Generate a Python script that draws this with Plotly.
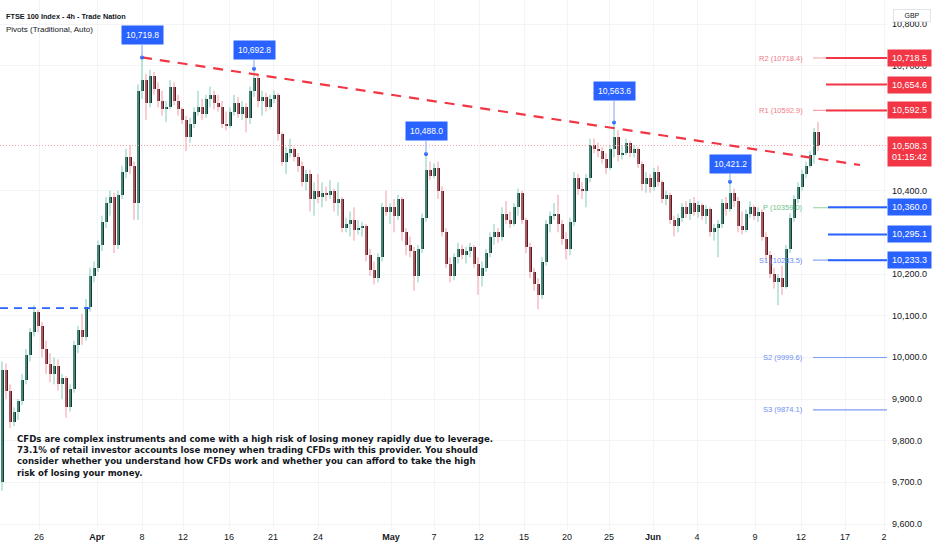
import plotly.graph_objects as go

# FTSE 100 4h candles (price units)
opens = [9700, 9970, 9920, 9845, 9870, 9895, 9945, 10005, 10060, 10110,
         10075, 10020, 9985, 9960, 9980, 9935, 9950, 9880, 9925, 10030,
         10065, 10050, 10120, 10195, 10215, 10270, 10325, 10370, 10385, 10270,
         10390, 10445, 10480, 10460, 10370, 10640, 10665, 10610, 10675, 10645,
         10615, 10595, 10600, 10650, 10615, 10595, 10570, 10530, 10560, 10590,
         10600, 10585, 10620, 10630, 10610, 10600, 10560, 10555, 10590, 10610,
         10585, 10600, 10575, 10640, 10670, 10615, 10625, 10600, 10620, 10630,
         10535, 10470, 10490, 10500, 10480, 10460, 10420, 10440, 10380, 10400,
         10385, 10395, 10390, 10400, 10370, 10380, 10310, 10320, 10330, 10305,
         10310, 10315, 10245, 10210, 10190, 10240, 10360, 10350, 10360, 10340,
         10380, 10300, 10270, 10255, 10195, 10260, 10335, 10450, 10435, 10455,
         10400, 10300, 10225, 10195, 10240, 10260, 10245, 10255, 10265, 10225,
         10195, 10215, 10250, 10290, 10300, 10290, 10345, 10330, 10320, 10360,
         10395, 10330, 10265, 10205, 10175, 10150, 10230, 10320, 10340, 10345,
         10320, 10285, 10260, 10325, 10430, 10405, 10400, 10430, 10510, 10500,
         10495, 10475, 10455, 10500, 10530, 10485, 10490, 10515, 10490, 10500,
         10465, 10415, 10430, 10410, 10445, 10420, 10380, 10390, 10330, 10315,
         10335, 10360, 10345, 10370, 10350, 10365, 10340, 10355, 10300, 10310,
         10320, 10370, 10355, 10395, 10375, 10315, 10305, 10345, 10360, 10340,
         10350, 10290, 10245, 10200, 10180, 10190, 10170, 10260, 10335, 10380,
         10410, 10440, 10460, 10485, 10540]
highs = [9990, 9985, 9935, 9880, 9900, 9960, 10020, 10070, 10125, 10115,
         10085, 10040, 10010, 10000, 9995, 9960, 9955, 9935, 10040, 10075,
         10105, 10140, 10215, 10230, 10280, 10340, 10385, 10400, 10395, 10400,
         10460, 10500, 10510, 10470, 10655, 10719.8, 10680, 10690, 10685, 10660,
         10640, 10615, 10665, 10660, 10630, 10600, 10580, 10575, 10600, 10640,
         10620, 10630, 10650, 10640, 10630, 10615, 10590, 10600, 10630, 10625,
         10615, 10610, 10650, 10692.8, 10680, 10640, 10635, 10630, 10640, 10635,
         10540, 10505, 10525, 10505, 10490, 10470, 10450, 10450, 10420, 10440,
         10420, 10410, 10425, 10405, 10420, 10385, 10335, 10350, 10360, 10330,
         10325, 10320, 10260, 10230, 10250, 10370, 10400, 10370, 10380, 10390,
         10385, 10310, 10290, 10265, 10270, 10345, 10488.0, 10470, 10465, 10470,
         10410, 10310, 10240, 10250, 10275, 10270, 10265, 10275, 10270, 10240,
         10230, 10260, 10300, 10320, 10310, 10360, 10375, 10350, 10370, 10405,
         10400, 10335, 10275, 10215, 10190, 10240, 10330, 10350, 10370, 10390,
         10330, 10300, 10335, 10445, 10440, 10420, 10440, 10525, 10525, 10515,
         10505, 10490, 10510, 10563.6, 10545, 10510, 10525, 10520, 10510, 10505,
         10470, 10445, 10440, 10455, 10460, 10425, 10400, 10395, 10340, 10345,
         10370, 10375, 10380, 10385, 10375, 10370, 10365, 10360, 10320, 10330,
         10380, 10385, 10421.2, 10405, 10385, 10350, 10355, 10375, 10365, 10360,
         10355, 10300, 10255, 10215, 10200, 10220, 10270, 10345, 10390, 10420,
         10450, 10470, 10495, 10550, 10565]
lows = [9680, 9900, 9830, 9835, 9850, 9885, 9935, 9990, 10050, 10060,
        10000, 9960, 9940, 9935, 9920, 9900, 9855, 9870, 9915, 10010,
        10030, 10040, 10110, 10180, 10205, 10255, 10310, 10340, 10250, 10260,
        10380, 10430, 10440, 10330, 10330, 10620, 10570, 10600, 10630, 10600,
        10580, 10565, 10595, 10605, 10580, 10560, 10495, 10515, 10550, 10580,
        10570, 10575, 10600, 10595, 10590, 10550, 10545, 10550, 10580, 10575,
        10570, 10540, 10560, 10625, 10600, 10580, 10590, 10595, 10610, 10520,
        10460, 10440, 10480, 10470, 10445, 10410, 10400, 10350, 10340, 10370,
        10360, 10375, 10380, 10350, 10340, 10300, 10300, 10290, 10280, 10295,
        10290, 10230, 10195, 10175, 10180, 10230, 10340, 10320, 10300, 10330,
        10280, 10245, 10240, 10160, 10180, 10250, 10325, 10425, 10430, 10380,
        10290, 10215, 10180, 10185, 10225, 10235, 10225, 10240, 10215, 10150,
        10170, 10205, 10240, 10270, 10275, 10280, 10320, 10310, 10315, 10340,
        10320, 10250, 10190, 10160, 10115, 10140, 10220, 10300, 10330, 10300,
        10270, 10235, 10245, 10315, 10390, 10380, 10360, 10420, 10490, 10480,
        10465, 10440, 10450, 10480, 10470, 10475, 10485, 10480, 10480, 10455,
        10400, 10395, 10395, 10400, 10410, 10370, 10365, 10320, 10290, 10300,
        10325, 10335, 10330, 10340, 10335, 10330, 10320, 10290, 10280, 10240,
        10310, 10340, 10350, 10360, 10300, 10295, 10300, 10335, 10330, 10325,
        10280, 10230, 10190, 10165, 10125, 10150, 10165, 10250, 10325, 10370,
        10400, 10430, 10455, 10465, 10495]
closes = [9970, 9920, 9845, 9870, 9895, 9945, 10005, 10060, 10110, 10075,
          10020, 9985, 9960, 9980, 9935, 9950, 9880, 9925, 10030, 10065,
          10050, 10120, 10195, 10215, 10270, 10325, 10370, 10385, 10270, 10390,
          10445, 10480, 10460, 10370, 10640, 10665, 10610, 10675, 10645, 10615,
          10595, 10600, 10650, 10615, 10595, 10570, 10530, 10560, 10590, 10600,
          10585, 10620, 10630, 10610, 10600, 10560, 10555, 10590, 10610, 10585,
          10600, 10575, 10640, 10670, 10615, 10625, 10600, 10620, 10630, 10535,
          10470, 10490, 10500, 10480, 10460, 10420, 10440, 10380, 10400, 10385,
          10395, 10390, 10400, 10370, 10380, 10310, 10320, 10330, 10305, 10310,
          10315, 10245, 10210, 10190, 10240, 10360, 10350, 10360, 10340, 10380,
          10300, 10270, 10255, 10195, 10260, 10335, 10450, 10435, 10455, 10400,
          10300, 10225, 10195, 10240, 10260, 10245, 10255, 10265, 10225, 10195,
          10215, 10250, 10290, 10300, 10290, 10345, 10330, 10320, 10360, 10395,
          10330, 10265, 10205, 10175, 10150, 10230, 10320, 10340, 10345, 10320,
          10285, 10260, 10325, 10430, 10405, 10400, 10430, 10510, 10500, 10495,
          10475, 10455, 10500, 10530, 10485, 10490, 10515, 10490, 10500, 10465,
          10415, 10430, 10410, 10445, 10420, 10380, 10390, 10330, 10315, 10335,
          10360, 10345, 10370, 10350, 10365, 10340, 10355, 10300, 10310, 10320,
          10370, 10355, 10395, 10375, 10315, 10305, 10345, 10360, 10340, 10350,
          10290, 10245, 10200, 10180, 10190, 10170, 10260, 10335, 10380, 10410,
          10440, 10460, 10485, 10540, 10508.3]

# date axis (bar index -> label)
tick_bars = [9.25, 23.75, 35, 45.25, 56.75, 67.75, 79, 97.25, 108, 119.25,
             130.5, 141.25, 151.75, 162.75, 173.75, 188.25, 199.75, 210.75, 220.5]
tick_labels = ["26", "<b>Apr</b>", "8", "12", "16", "21", "24", "<b>May</b>", "7", "12",
               "15", "20", "25", "<b>Jun</b>", "4", "9", "12", "17", "2"]

# price ticks left visible (others sit under the level labels)
price_ticks = [9600, 9700, 9800, 9900, 10000, 10100, 10200, 10400, 10700, 10800]

# swing high callouts
peak_bars = [35, 63, 106, 153, 182]
peak_offsets = [-22, -19, -23, -32, -18]

# trend line (bar, price)
trend_bars = [35, 214.5]
trend_prices = [10719.8, 10461.6]

support_level = 10118
last_price = 10508.3
countdown = "01:15:42"

pivot_names = ["R2", "R1", "P", "S1", "S2", "S3"]
pivot_values = [10718.4, 10592.9, 10359.0, 10233.5, 9999.6, 9874.1]
pivot_colors = ["#f7a1a9", "#f7a1a9", "#8fd19e", "#8aa8f6", "#7d9df5", "#7d9df5"]
pivot_text_colors = ["#f27a86", "#f27a86", "#6cc388", "#6d8ff3", "#6d8ff3", "#6d8ff3"]

red_levels = [10718.5, 10654.6, 10592.5]
blue_levels = [10360.0, 10295.1, 10233.3]

x_left, x_right = -0.5, 221.25
y_low, y_high = 9585.6, 10857.6

fig = go.Figure()

# wicks
up_x, up_y, dn_x, dn_y = [], [], [], []
for i in range(len(closes)):
    if closes[i] >= opens[i]:
        up_x += [i, i, None]
        up_y += [lows[i], highs[i], None]
    else:
        dn_x += [i, i, None]
        dn_y += [lows[i], highs[i], None]
fig.add_trace(go.Scatter(x=up_x, y=up_y, mode="lines", line=dict(color="#7fcdb8", width=1), hoverinfo="skip"))
fig.add_trace(go.Scatter(x=dn_x, y=dn_y, mode="lines", line=dict(color="#f49aa3", width=1), hoverinfo="skip"))

# bodies
body_base = [min(o, c) for o, c in zip(opens, closes)]
body_len = [max(abs(c - o), 3) for o, c in zip(opens, closes)]
body_col = ["#0f3a31" if c >= o else "#5a1a20" for o, c in zip(opens, closes)]
fig.add_trace(go.Bar(x=list(range(len(closes))), y=body_len, base=body_base,
                     marker=dict(color=body_col, line=dict(width=0)), width=0.75, hoverinfo="skip"))

# horizontal support from the left
fig.add_trace(go.Scatter(x=[x_left, 22], y=[support_level, support_level], mode="lines",
                         line=dict(color="#2962ff", width=1.8, dash="8px,6px"), hoverinfo="skip"))

# last price dotted line
fig.add_trace(go.Scatter(x=[x_left, x_right], y=[last_price, last_price], mode="lines",
                         line=dict(color="#f7a1a9", width=1, dash="1px,2px"), hoverinfo="skip"))

# trend line
fig.add_trace(go.Scatter(x=trend_bars, y=trend_prices, mode="lines",
                         line=dict(color="#f23645", width=2.2, dash="10px,8px"), hoverinfo="skip"))

# pivot lines
for name, val, col, tcol in zip(pivot_names, pivot_values, pivot_colors, pivot_text_colors):
    fig.add_trace(go.Scatter(x=[202.75, x_right], y=[val, val], mode="lines",
                             line=dict(color=col, width=1.2), hoverinfo="skip"))
    fig.add_annotation(x=200.75, y=val, text=f"{name} ({val})", showarrow=False,
                       xanchor="right", font=dict(size=7.5, color=tcol))

for val in red_levels:
    fig.add_trace(go.Scatter(x=[206, x_right], y=[val, val], mode="lines",
                             line=dict(color="#f23645", width=2), hoverinfo="skip"))
for val in blue_levels:
    fig.add_trace(go.Scatter(x=[206.5, x_right], y=[val, val], mode="lines",
                             line=dict(color="#2962ff", width=2), hoverinfo="skip"))

# peak dots + callouts
fig.add_trace(go.Scatter(x=peak_bars, y=[highs[b] for b in peak_bars], mode="markers",
                         marker=dict(color="#2962ff", size=4), hoverinfo="skip"))
for b, off in zip(peak_bars, peak_offsets):
    fig.add_annotation(x=b, y=highs[b], text=f"{highs[b]:,.1f}", showarrow=True, arrowhead=0,
                       arrowcolor="#7fa2f7", arrowwidth=1, ax=0, ay=off,
                       bgcolor="#2962ff", borderpad=4, font=dict(color="white", size=8.5))

# price axis labels
for val in red_levels:
    fig.add_annotation(xref="paper", x=1, y=val, text=f"{val:,.1f}", showarrow=False, xanchor="left",
                       width=41, height=14, bgcolor="#f23645", font=dict(color="white", size=9))
for val in blue_levels:
    fig.add_annotation(xref="paper", x=1, y=val, text=f"{val:,.1f}", showarrow=False, xanchor="left",
                       width=41, height=14, bgcolor="#2962ff", font=dict(color="white", size=9))
fig.add_annotation(xref="paper", x=1, y=last_price, yshift=-6, text=f"{last_price:,.1f}<br>{countdown}",
                   showarrow=False, xanchor="left", width=41, height=27, bgcolor="#f23645",
                   font=dict(color="white", size=9))
fig.add_annotation(xref="paper", yref="paper", x=1, y=1 - 8.5 / 530, xshift=6, text="GBP", showarrow=False,
                   xanchor="left", width=34, height=9, bgcolor="white", bordercolor="#e0e3eb",
                   borderwidth=1, font=dict(color="#131722", size=7))

# header text
fig.add_annotation(xref="paper", yref="paper", x=0.005, y=1 - 10 / 530, text="<b>FTSE 100 Index - 4h - Trade Nation</b>",
                   showarrow=False, xanchor="left", font=dict(color="#131722", size=7.3))
fig.add_annotation(xref="paper", yref="paper", x=0.005, y=1 - 23 / 530, text="Pivots (Traditional, Auto)",
                   showarrow=False, xanchor="left", font=dict(color="#131722", size=8))

disclaimer = ("CFDs are complex instruments and come with a high risk of losing money rapidly due to leverage.<br>"
              "73.1% of retail investor accounts lose money when trading CFDs with this provider. You should<br>"
              "consider whether you understand how CFDs work and whether you can afford to take the high<br>"
              "risk of losing your money.")
fig.add_annotation(xref="paper", yref="paper", x=15 / 887, y=1 - 432 / 530, text=disclaimer, showarrow=False,
                   xanchor="left", yanchor="top", align="left",
                   font=dict(family="DejaVu Sans", color="#131722", size=8.6, weight="bold"))

fig.update_layout(
    width=932, height=550,
    margin=dict(l=0, r=45, t=0, b=20),
    paper_bgcolor="white", plot_bgcolor="white",
    showlegend=False, bargap=0,
    font=dict(family="Liberation Sans", color="#131722"),
    xaxis=dict(range=[x_left, x_right], tickvals=tick_bars, ticktext=tick_labels,
               showgrid=True, gridcolor="#f3f4f7", zeroline=False, showline=False,
               tickfont=dict(size=9), ticks="", fixedrange=True),
    yaxis=dict(range=[y_low, y_high], side="right", tickvals=price_ticks, tickformat=",.1f",
               showgrid=True, gridcolor="#f3f4f7", zeroline=False, showline=False,
               tickfont=dict(size=9), ticks="", ticklabelstandoff=4),
)

fig.write_html("out.html", config={"displayModeBar": False},
               post_script="document.body.style.margin = '0';")
